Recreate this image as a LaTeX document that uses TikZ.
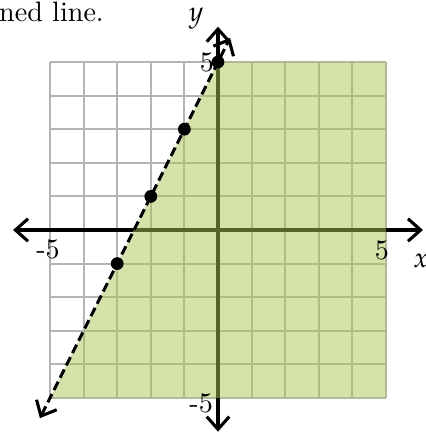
\documentclass[tikz,border=0pt]{standalone}
\usepackage{mathpazo}
\usetikzlibrary{arrows.meta}
\definecolor{IneqGrid}{RGB}{180,180,180}
\definecolor{IneqGreen}{RGB}{170,200,80}
\tikzset{
  ineq/grid/.style={draw=IneqGrid, line width=0.7pt, step=0.42cm},
  ineq/axis/.style={{Straight Barb[length=4.5pt,width=8pt]}-{Straight Barb[length=4.5pt,width=8pt]}, line width=1.1pt, draw=black},
  ineq/shade/.style={fill=IneqGreen, fill opacity=0.5},
  ineq/boundary/.style={{Straight Barb[length=4.5pt,width=8pt]}-{Straight Barb[length=4.5pt,width=8pt]}, line width=1.1pt, dash pattern=on 3.3pt off 1.6pt, draw=black},
  ineq/dot/.style={circle, fill=black, inner sep=0pt, minimum size=1.6mm},
  ineq/ticklabel/.style={inner sep=0pt, text=black},
  ineq/axislabel/.style={inner sep=0pt, font=\itshape}
}
\begin{document}
\begin{tikzpicture}[x=0.42cm,y=0.42cm]
  \useasboundingbox (-6.488,-6.012) rectangle (6.161,6.845);
  \node[anchor=base west, inner sep=0pt] (caption) at (-6.53,6.22) {ned line.};
  \draw[ineq/grid] (-5,-5) grid (5,5);
  \coordinate (xmin) at (-6.1,0);
  \coordinate (xmax) at (6.1,0);
  \coordinate (ymin) at (0,-6.0);
  \coordinate (ymax) at (0,6.05);
  \draw[ineq/axis] (xmin) -- (xmax);
  \draw[ineq/axis] (ymin) -- (ymax);
  \fill[ineq/shade] (-5,-5) -- (0,5) -- (5,5) -- (5,-5) -- cycle;
  \coordinate (lowend) at (-5.3,-5.6);
  \coordinate (topend) at (0.36,5.72);
  \draw[ineq/boundary] (lowend) -- (topend);
  \node[ineq/dot] (p0) at (0,5) {};
  \node[ineq/dot] (p1) at (-1,3) {};
  \node[ineq/dot] (p2) at (-2,1) {};
  \node[ineq/dot] (p3) at (-3,-1) {};
  \node[ineq/ticklabel] (xneg) at (-5.06,-0.57) {-5};
  \node[ineq/ticklabel] (xpos) at (4.88,-0.62) {5};
  \node[ineq/ticklabel] (ypos) at (-0.33,5.0) {5};
  \node[ineq/ticklabel] (yneg) at (-0.5,-5.15) {-5};
  \node[ineq/axislabel] (xlab) at (6.04,-0.92) {$x$};
  \node[ineq/axislabel] (ylab) at (-0.65,6.3) {$y$};
\end{tikzpicture}
\end{document}
